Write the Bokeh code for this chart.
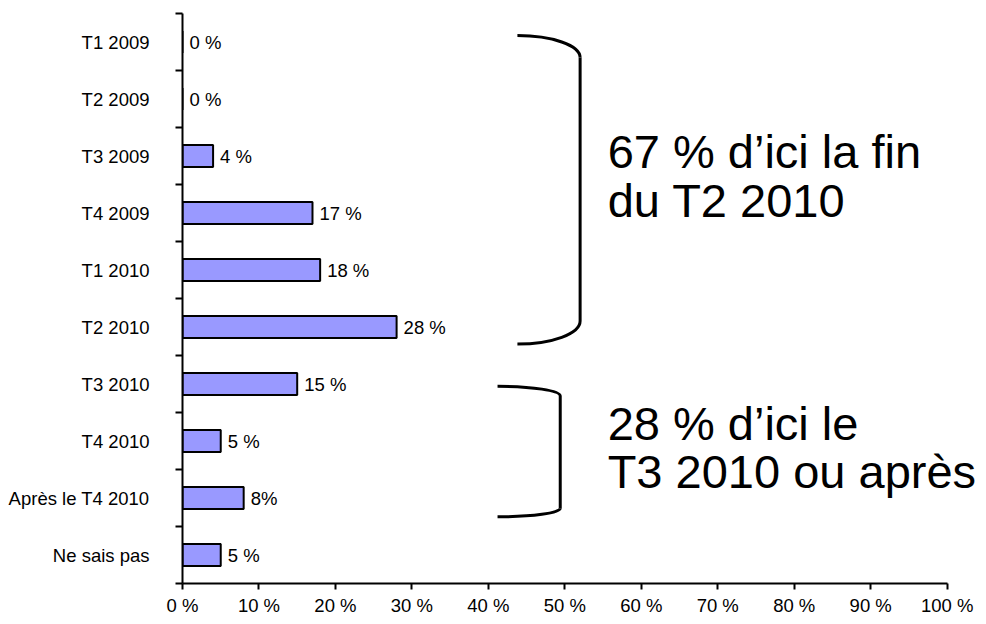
from bokeh.plotting import figure
from bokeh.models import Range1d, FixedTicker, PrintfTickFormatter, Label
from bokeh.core.properties import value
from bokeh.embed import file_html
from bokeh.resources import INLINE

categories = ["T1 2009", "T2 2009", "T3 2009", "T4 2009", "T1 2010", "T2 2010",
              "T3 2010", "T4 2010", "Après le T4 2010", "Ne sais pas"]
values = [0, 0, 4, 17, 18, 28, 15, 5, 8, 5]
value_labels = ["0 %", "0 %", "4 %", "17 %", "18 %", "28 %", "15 %", "5 %", "8%", "5 %"]
x_ticks = [0, 10, 20, 30, 40, 50, 60, 70, 80, 90, 100]

group1_lines = ["67 % d\u2019ici la fin", "du T2 2010"]
group2_lines = ["28 % d\u2019ici le", "T3 2010 ou après"]
group1 = (0, 5)   # category index span of first bracket
group2 = (6, 8)   # category index span of second bracket

FONT = "Liberation Sans"
SMALL = "18.5px"
BIG = "47px"
idx = list(range(len(categories)))

p = figure(width=978, height=618,
           x_range=Range1d(0, 104.1), y_range=Range1d(len(categories) - 0.5, -0.5),
           output_backend="svg", toolbar_location=None,
           min_border_left=182, min_border_right=0, min_border_top=13, min_border_bottom=34)
p.outline_line_color = None
p.xgrid.visible = False
p.ygrid.visible = False
p.background_fill_color = "white"

p.hbar(y=idx, left=0, right=values, height=0.39,
       fill_color="#9999FF", line_color="black", line_width=2)

p.text(x=values, y=idx, text=value_labels, x_offset=7,
       text_align="left", text_baseline="middle",
       text_font=value(FONT), text_font_size=SMALL, text_color="black")

# x axis
xa = p.xaxis[0]
xa.ticker = FixedTicker(ticks=x_ticks, minor_ticks=[])
xa.formatter = PrintfTickFormatter(format="%d %%")
xa.bounds = (0, 100)
xa.axis_line_width = 2
xa.axis_line_color = "black"
xa.major_tick_out = 6
xa.major_tick_in = 0
xa.major_tick_line_width = 2
xa.major_tick_line_color = "black"
xa.minor_tick_line_color = None
xa.major_label_text_font = FONT
xa.major_label_text_font_size = SMALL
xa.major_label_text_color = "black"
xa.major_label_standoff = 5

# y axis
ya = p.yaxis[0]
ya.ticker = FixedTicker(ticks=idx, minor_ticks=[i - 0.5 for i in range(len(categories) + 1)])
ya.major_label_overrides = {i: c for i, c in zip(idx, categories)}
ya.axis_line_width = 2
ya.axis_line_color = "black"
ya.major_tick_out = 0
ya.major_tick_in = 0
ya.major_tick_line_color = None
ya.minor_tick_out = 7
ya.minor_tick_in = 0
ya.minor_tick_line_width = 2
ya.minor_tick_line_color = "black"
ya.major_label_text_font = FONT
ya.major_label_text_font_size = SMALL
ya.major_label_text_color = "black"
ya.major_label_standoff = 26


def bracket(xl, xr, yt, yc1, yc2, yb, lw):
    k = 0.552
    p.bezier(x0=[xl, xr], y0=[yt, yc2], x1=[xr, xl], y1=[yc1, yb],
             cx0=[xl + k * (xr - xl), xr], cy0=[yt, yc2 + k * (yb - yc2)],
             cx1=[xr, xl + k * (xr - xl)], cy1=[yc1 - k * (yc1 - yt), yb],
             line_color="black", line_width=lw)
    p.segment(x0=[xr], y0=[yc1], x1=[xr], y1=[yc2], line_color="black", line_width=lw)


bracket(43.8, 52.0, group1[0] - 0.113, group1[0] + 0.273, group1[1] - 0.105, group1[1] + 0.30, 3)
bracket(41.2, 49.4, group2[0] + 0.04, group2[0] + 0.21, group2[1] + 0.18, group2[1] + 0.33, 3)

for text, y in zip(group1_lines, [group1[0] + 1.92, group1[0] + 2.785]):
    p.add_layout(Label(x=55.6, y=y, text=text, text_font=FONT, text_font_size=BIG,
                       text_align="left", text_baseline="alphabetic", text_color="black"))
for text, y in zip(group2_lines, [group2[0] + 0.687, group2[0] + 1.53]):
    p.add_layout(Label(x=55.6, y=y, text=text, text_font=FONT, text_font_size=BIG,
                       text_align="left", text_baseline="alphabetic", text_color="black"))

open("out.html", "w").write(file_html(p, INLINE))
